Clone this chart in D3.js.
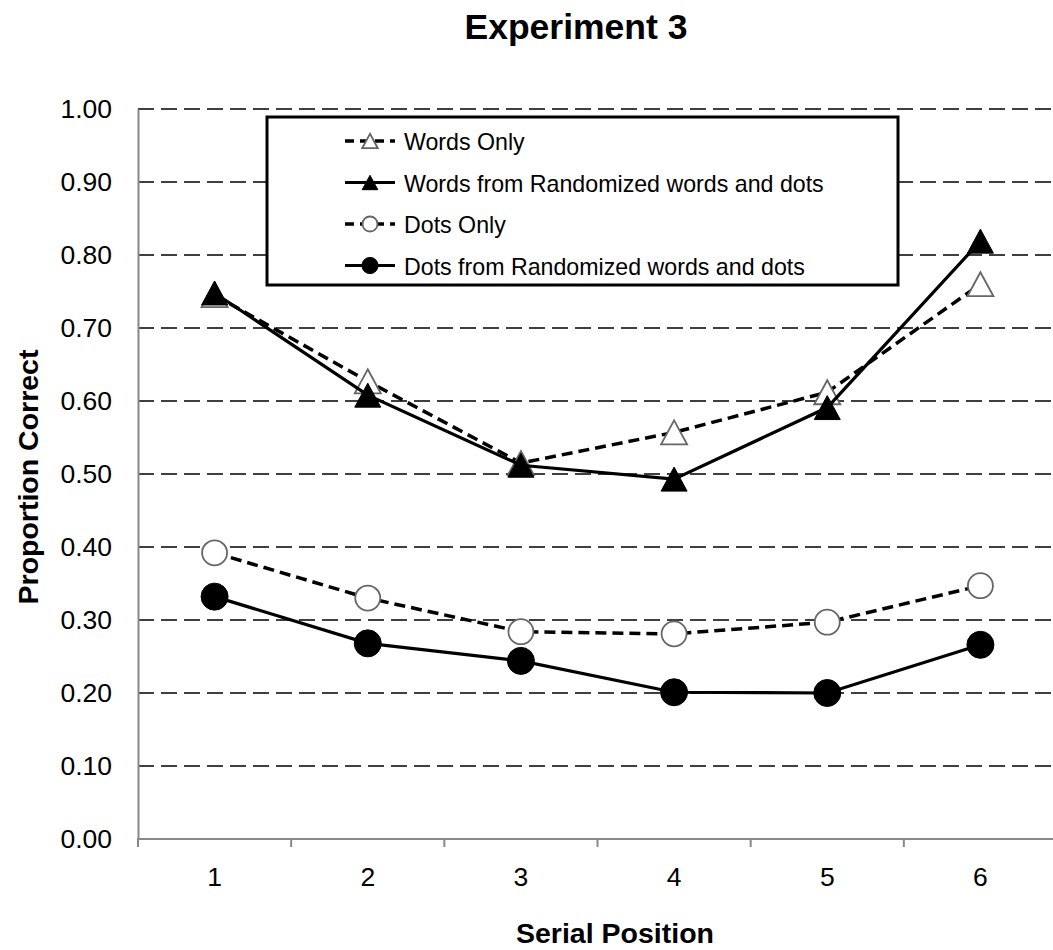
<!DOCTYPE html>
<html>
<head>
<meta charset="utf-8">
<script src="https://cdn.jsdelivr.net/npm/d3@7"></script>
<style>
  html, body { margin: 0; padding: 0; background: #fff; }
  svg text { font-family: "Liberation Sans", Arial, sans-serif; }
</style>
</head>
<body>
<svg id="chart" width="1053" height="950"></svg>
<script>
// ---- data ----
const positions = [1, 2, 3, 4, 5, 6];
const yTicks = [0, 0.1, 0.2, 0.3, 0.4, 0.5, 0.6, 0.7, 0.8, 0.9, 1.0];
const wordsOnly = [0.745, 0.627, 0.515, 0.557, 0.612, 0.760];
const wordsRandomized = [0.748, 0.608, 0.512, 0.493, 0.591, 0.819];
const dotsOnly = [0.392, 0.330, 0.284, 0.281, 0.297, 0.347];
const dotsRandomized = [0.332, 0.268, 0.244, 0.201, 0.200, 0.266];
const seriesNames = [
  "Words Only",
  "Words from Randomized words and dots",
  "Dots Only",
  "Dots from Randomized words and dots"
];
const titleText = "Experiment 3";
const xTitle = "Serial Position";
const yTitle = "Proportion Correct";

const series = [
  { name: seriesNames[0], values: wordsOnly, dashed: true, shape: "triangle", filled: false },
  { name: seriesNames[1], values: wordsRandomized, dashed: false, shape: "triangle", filled: true },
  { name: seriesNames[2], values: dotsOnly, dashed: true, shape: "circle", filled: false },
  { name: seriesNames[3], values: dotsRandomized, dashed: false, shape: "circle", filled: true }
];

// ---- layout ----
const svg = d3.select("#chart");
const pLeft = 138, pRight = 1057, pTop = 109, pBottom = 839;

const x = d3.scaleBand().domain(positions).range([pLeft, pRight]).padding(0);
const y = d3.scaleLinear().domain([0, 1]).range([pBottom, pTop]);
const cx = d => x(d) + x.bandwidth() / 2;

// title
svg.append("text")
  .attr("x", 576).attr("y", 39)
  .attr("text-anchor", "middle")
  .attr("font-size", 35.5).attr("font-weight", "bold")
  .text(titleText);

// gridlines
svg.append("g").selectAll("line").data(yTicks.filter(t => t > 0)).join("line")
  .attr("x1", pLeft).attr("x2", pRight)
  .attr("y1", d => y(d)).attr("y2", d => y(d))
  .attr("stroke", "#000").attr("stroke-width", 1.6)
  .attr("stroke-dasharray", "16,7");

// y axis
const yAxis = d3.axisLeft(y).tickValues(yTicks).tickFormat(d3.format(".2f")).tickSize(0).tickPadding(26);
const gy = svg.append("g").attr("transform", `translate(${pLeft},0)`).call(yAxis);
gy.select(".domain").attr("stroke", "#888").attr("stroke-width", 2);
gy.selectAll("text").attr("font-size", 26.5).attr("fill", "#000")
  .style("font-family", '"Liberation Sans", Arial, sans-serif');

// x axis (line + ticks at band boundaries)
const gx = svg.append("g");
gx.append("line").attr("x1", pLeft - 1).attr("x2", pRight).attr("y1", pBottom).attr("y2", pBottom)
  .attr("stroke", "#888").attr("stroke-width", 2);
const boundaries = positions.map(p => x(p));
gx.selectAll("line.tick").data(boundaries).join("line").attr("class", "tick")
  .attr("x1", d => d).attr("x2", d => d).attr("y1", pBottom).attr("y2", pBottom + 8)
  .attr("stroke", "#888").attr("stroke-width", 2);
gx.selectAll("text").data(positions).join("text")
  .attr("x", d => cx(d)).attr("y", 886)
  .attr("text-anchor", "middle").attr("font-size", 26.5)
  .text(d => d);

// axis titles
svg.append("text")
  .attr("x", 615).attr("y", 943)
  .attr("text-anchor", "middle").attr("font-size", 28.5).attr("font-weight", "bold")
  .text(xTitle);
svg.append("text")
  .attr("transform", `translate(38,${(pTop + pBottom) / 2 + 3}) rotate(-90)`)
  .attr("text-anchor", "middle").attr("font-size", 28.5).attr("font-weight", "bold")
  .text(yTitle);

// marker helpers
function trianglePath(cxp, cyp, w, h) {
  return `M${cxp},${cyp - h / 2} L${cxp + w / 2},${cyp + h / 2} L${cxp - w / 2},${cyp + h / 2} Z`;
}
function drawMarker(g, s, px, py, scale) {
  if (s.shape === "triangle") {
    g.append("path")
      .attr("d", trianglePath(px, py, 26 * scale, 24 * scale))
      .attr("fill", s.filled ? "#000" : "#fff")
      .attr("stroke", s.filled ? "#000" : "#666")
      .attr("stroke-width", s.filled ? 1 : 1.8)
      .attr("stroke-linejoin", "miter");
  } else {
    g.append("circle")
      .attr("cx", px).attr("cy", py)
      .attr("r", (s.filled ? 13.5 : 12.5) * scale)
      .attr("fill", s.filled ? "#000" : "#fff")
      .attr("stroke", s.filled ? "#000" : "#666")
      .attr("stroke-width", s.filled ? 1 : 1.8);
  }
}

// series
const line = d3.line().x((d, i) => cx(positions[i])).y(d => y(d));
const gs = svg.append("g");
series.forEach(s => {
  gs.append("path")
    .attr("d", line(s.values))
    .attr("fill", "none")
    .attr("stroke", "#000")
    .attr("stroke-width", s.dashed ? 3.5 : 3.2)
    .attr("stroke-dasharray", s.dashed ? "11,6" : null);
  s.values.forEach((v, i) => drawMarker(gs, s, cx(positions[i]), y(v), 1));
});

// legend
const lg = svg.append("g");
lg.append("rect")
  .attr("x", 267).attr("y", 117).attr("width", 631).attr("height", 168)
  .attr("fill", "#fff").attr("stroke", "#000").attr("stroke-width", 3);
const rowY = [141, 182.5, 224, 265.5];
series.forEach((s, i) => {
  const yy = rowY[i];
  lg.append("line")
    .attr("x1", 345).attr("x2", 395).attr("y1", yy).attr("y2", yy)
    .attr("stroke", "#000").attr("stroke-width", s.dashed ? 3.5 : 3.2)
    .attr("stroke-dasharray", s.dashed ? "9,6" : null);
  drawMarker(lg, s, 370, yy, 0.6);
  lg.append("text")
    .attr("x", 404).attr("y", yy + 9)
    .attr("font-size", 23.2)
    .text(s.name);
});
</script>
</body>
</html>
